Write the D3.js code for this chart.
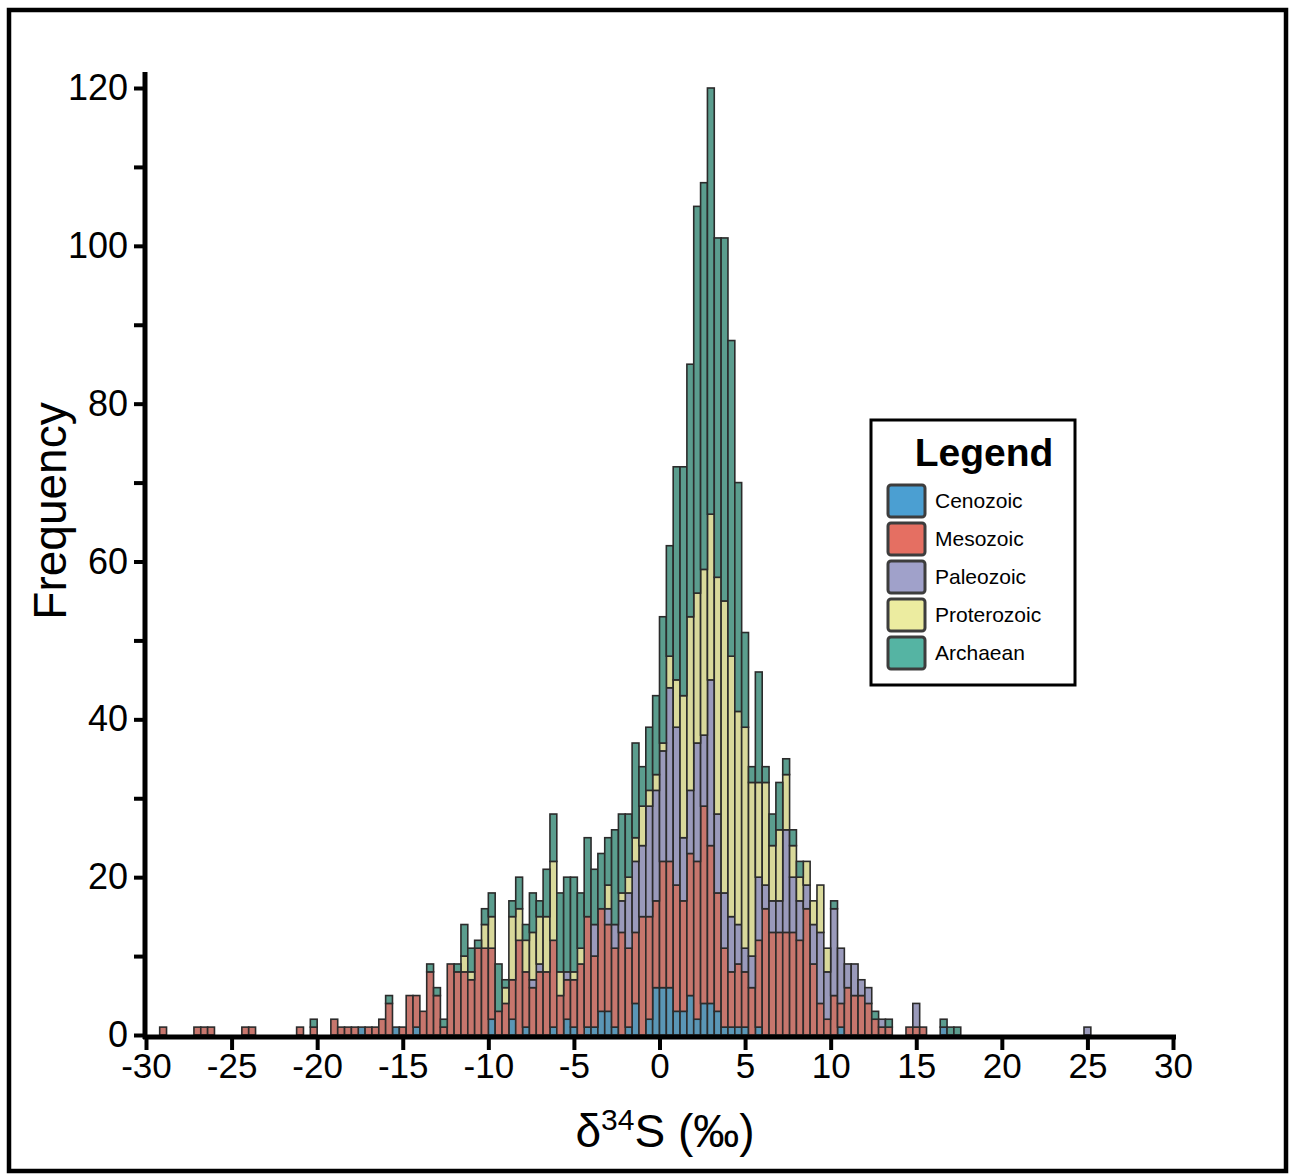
<!DOCTYPE html>
<html>
<head>
<meta charset="utf-8">
<script src="https://cdn.jsdelivr.net/npm/d3@7"></script>
<style>
  body { margin: 0; background: #fff; }
  svg { display: block; }
  text { font-family: "Liberation Sans", Arial, Helvetica, sans-serif; fill: #000; }
</style>
</head>
<body>
<svg id="chart" width="1290" height="1174"></svg>
<script>
// δ34S histogram, 0.4 ‰ bins, counts stacked by geological era
const binWidth = 0.4;
const eras = ["Cenozoic", "Mesozoic", "Paleozoic", "Proterozoic", "Archaean"];

const binCenters = [
  -29.0, -27.0, -26.6, -26.2, -24.2, -23.8, -21.0, -20.2, -19.0,
  -18.6, -18.2, -17.8, -17.4, -17.0, -16.6, -16.2, -15.8, -15.4, -15.0,
  -14.6, -14.2, -13.8, -13.4, -13.0, -12.6, -12.2, -11.8, -11.4, -11.0,
  -10.6, -10.2, -9.8, -9.4, -9.0, -8.6, -8.2, -7.8, -7.4, -7.0,
  -6.6, -6.2, -5.8, -5.4, -5.0, -4.6, -4.2, -3.8, -3.4, -3.0,
  -2.6, -2.2, -1.8, -1.4, -1.0, -0.6, -0.2, 0.2, 0.6, 1.0,
  1.4, 1.8, 2.2, 2.6, 3.0, 3.4, 3.8, 4.2, 4.6, 5.0,
  5.4, 5.8, 6.2, 6.6, 7.0, 7.4, 7.8, 8.2, 8.6, 9.0,
  9.4, 9.8, 10.2, 10.6, 11.0, 11.4, 11.8, 12.2, 12.6, 13.0,
  13.4, 14.6, 15.0, 15.4, 16.6, 17.0, 17.4, 25.0
];

const cenozoic = [
  0, 0, 0, 0, 0, 0, 0, 0, 0,
  0, 0, 0, 1, 0, 0, 0, 0, 1, 0,
  0, 1, 0, 0, 0, 0, 0, 0, 0, 0,
  0, 0, 2, 0, 0, 2, 0, 1, 0, 0,
  0, 1, 0, 2, 1, 0, 1, 1, 3, 3,
  1, 0, 1, 4, 0, 2, 6, 6, 6, 3,
  3, 5, 2, 4, 4, 3, 1, 1, 1, 1,
  0, 1, 0, 0, 0, 0, 0, 0, 0, 0,
  0, 0, 0, 1, 0, 0, 0, 0, 0, 0,
  0, 0, 0, 0, 1, 0, 0, 0
];

const mesozoic = [
  1, 1, 1, 1, 1, 1, 1, 1, 2,
  1, 1, 1, 0, 1, 1, 2, 4, 0, 1,
  5, 4, 3, 8, 5, 1, 9, 8, 8, 7,
  11, 11, 9, 3, 4, 5, 12, 7, 6, 8,
  8, 11, 5, 5, 6, 9, 14, 9, 13, 11,
  10, 13, 10, 9, 15, 13, 11, 16, 16, 16,
  14, 18, 20, 25, 20, 15, 10, 7, 8, 7,
  6, 11, 16, 13, 13, 13, 13, 12, 16, 9,
  4, 2, 5, 3, 6, 5, 5, 4, 2, 1,
  1, 1, 1, 1, 0, 0, 0, 0
];

const paleozoic = [
  0, 0, 0, 0, 0, 0, 0, 0, 0,
  0, 0, 0, 0, 0, 0, 0, 0, 0, 0,
  0, 0, 0, 0, 0, 0, 0, 0, 0, 0,
  0, 0, 0, 0, 0, 0, 0, 0, 1, 1,
  0, 0, 0, 1, 0, 0, 0, 4, 0, 2,
  3, 4, 7, 9, 9, 14, 14, 14, 22, 20,
  8, 8, 15, 9, 21, 10, 7, 7, 5, 3,
  4, 8, 3, 4, 4, 13, 7, 5, 3, 5,
  9, 6, 11, 7, 3, 4, 2, 2, 0, 1,
  0, 0, 3, 0, 0, 0, 0, 1
];

const proterozoic = [
  0, 0, 0, 0, 0, 0, 0, 0, 0,
  0, 0, 0, 0, 0, 0, 0, 0, 0, 0,
  0, 0, 0, 0, 0, 0, 0, 0, 2, 1,
  0, 3, 4, 0, 2, 8, 4, 4, 6, 6,
  7, 10, 3, 0, 1, 2, 0, 0, 0, 3,
  0, 1, 2, 3, 5, 2, 2, 1, 4, 6,
  18, 22, 19, 21, 21, 30, 37, 33, 27, 28,
  22, 12, 13, 7, 9, 7, 4, 3, 3, 3,
  6, 3, 0, 0, 0, 0, 0, 0, 0, 0,
  0, 0, 0, 0, 0, 0, 0, 0
];

const archaean = [
  0, 0, 0, 0, 0, 0, 0, 1, 0,
  0, 0, 0, 0, 0, 0, 0, 1, 0, 0,
  0, 0, 0, 1, 1, 1, 0, 1, 4, 3,
  1, 2, 3, 6, 1, 2, 4, 2, 5, 2,
  6, 6, 10, 12, 12, 7, 10, 7, 7, 6,
  12, 10, 8, 12, 5, 8, 10, 16, 14, 27,
  29, 32, 49, 49, 54, 43, 46, 40, 29, 12,
  2, 14, 2, 4, 6, 2, 2, 2, 0, 0,
  0, 0, 1, 0, 0, 0, 0, 0, 1, 0,
  1, 0, 0, 0, 1, 1, 1, 0
];

const xTicks = [-30, -25, -20, -15, -10, -5, 0, 5, 10, 15, 20, 25, 30];
const yTicks = [0, 10, 20, 30, 40, 50, 60, 70, 80, 90, 100, 110, 120];
const yLabelled = [0, 20, 40, 60, 80, 100, 120];

const barColors = ["#5a96b6", "#c7766d", "#9a9abb", "#d9d99b", "#5b9d8e"];
const swatchColors = ["#4b9fd2", "#e56f62", "#a0a1ca", "#ececa0", "#55b4a3"];

const svg = d3.select("#chart");
svg.append("rect").attr("width", 1290).attr("height", 1174).attr("fill", "#fff");

// outer frame
svg.append("rect")
  .attr("x", 9).attr("y", 10).attr("width", 1277).attr("height", 1161)
  .attr("fill", "none").attr("stroke", "#000").attr("stroke-width", 4.5);

const x = d3.scaleLinear().domain([-30, 30]).range([146, 1173]);
const y = d3.scaleLinear().domain([0, 120]).range([1035, 88]);

const rows = binCenters.map((c, i) => ({
  center: c,
  Cenozoic: cenozoic[i],
  Mesozoic: mesozoic[i],
  Paleozoic: paleozoic[i],
  Proterozoic: proterozoic[i],
  Archaean: archaean[i]
}));
const series = d3.stack().keys(eras)(rows);
const color = d3.scaleOrdinal(eras, barColors);

// stacked bars
svg.append("g")
  .selectAll("g")
  .data(series)
  .join("g")
  .attr("fill", d => color(d.key))
  .selectAll("rect")
  .data(d => d.filter(s => s[1] > s[0]))
  .join("rect")
  .attr("x", s => x(s.data.center - binWidth / 2))
  .attr("width", s => x(s.data.center + binWidth / 2) - x(s.data.center - binWidth / 2))
  .attr("y", s => y(s[1]))
  .attr("height", s => y(s[0]) - y(s[1]))
  .attr("stroke", "#2b2b2b")
  .attr("stroke-width", 1.6);

// y axis
const gy = svg.append("g")
  .attr("transform", "translate(145,0)")
  .call(d3.axisLeft(y)
    .tickValues(yTicks)
    .tickFormat(d => yLabelled.includes(d) ? String(d) : "")
    .tickSize(11).tickSizeOuter(0).tickPadding(6));
gy.select(".domain").remove();
gy.selectAll(".tick line").attr("stroke", "#000").attr("stroke-width", 4);
gy.selectAll(".tick text").attr("font-size", 36).attr("fill", "#000");
svg.append("line")
  .attr("x1", 145).attr("x2", 145).attr("y1", 72).attr("y2", 1039)
  .attr("stroke", "#000").attr("stroke-width", 5);

// x axis (plain hyphen for negative labels)
const gx = svg.append("g")
  .attr("transform", "translate(0,1037)")
  .call(d3.axisBottom(x)
    .tickValues(xTicks)
    .tickFormat(d => String(d))
    .tickSize(13).tickSizeOuter(0).tickPadding(3));
gx.select(".domain").remove();
gx.selectAll(".tick line").attr("stroke", "#000").attr("stroke-width", 4);
gx.selectAll(".tick text").attr("font-size", 35).attr("fill", "#000");
svg.append("line")
  .attr("x1", 143).attr("x2", 1176).attr("y1", 1037).attr("y2", 1037)
  .attr("stroke", "#000").attr("stroke-width", 5);

// axis titles
svg.append("text")
  .attr("transform", "translate(66,511) rotate(-90)")
  .attr("text-anchor", "middle")
  .attr("font-size", 46)
  .text("Frequency");

const xt = svg.append("text")
  .attr("x", 665).attr("y", 1147)
  .attr("text-anchor", "middle")
  .attr("font-size", 46);
xt.append("tspan").text("δ");
xt.append("tspan").attr("font-size", 30).attr("dy", -17).text("34");
xt.append("tspan").attr("dy", 17).text("S (‰)");

// legend
const lg = svg.append("g");
lg.append("rect")
  .attr("x", 871).attr("y", 420).attr("width", 204).attr("height", 265)
  .attr("fill", "#fff").attr("stroke", "#000").attr("stroke-width", 3);
lg.append("text")
  .attr("x", 984).attr("y", 466)
  .attr("text-anchor", "middle")
  .attr("font-size", 39).attr("font-weight", "bold")
  .text("Legend");
const item = lg.selectAll("g.item")
  .data(eras)
  .join("g")
  .attr("class", "item")
  .attr("transform", (d, i) => `translate(888,${485 + i * 38})`);
item.append("rect")
  .attr("width", 37).attr("height", 32).attr("rx", 3)
  .attr("fill", (d, i) => swatchColors[i])
  .attr("stroke", "#3d3d3d").attr("stroke-width", 3);
item.append("text")
  .attr("x", 47).attr("y", 23)
  .attr("font-size", 21)
  .text(d => d);
</script>
</body>
</html>
